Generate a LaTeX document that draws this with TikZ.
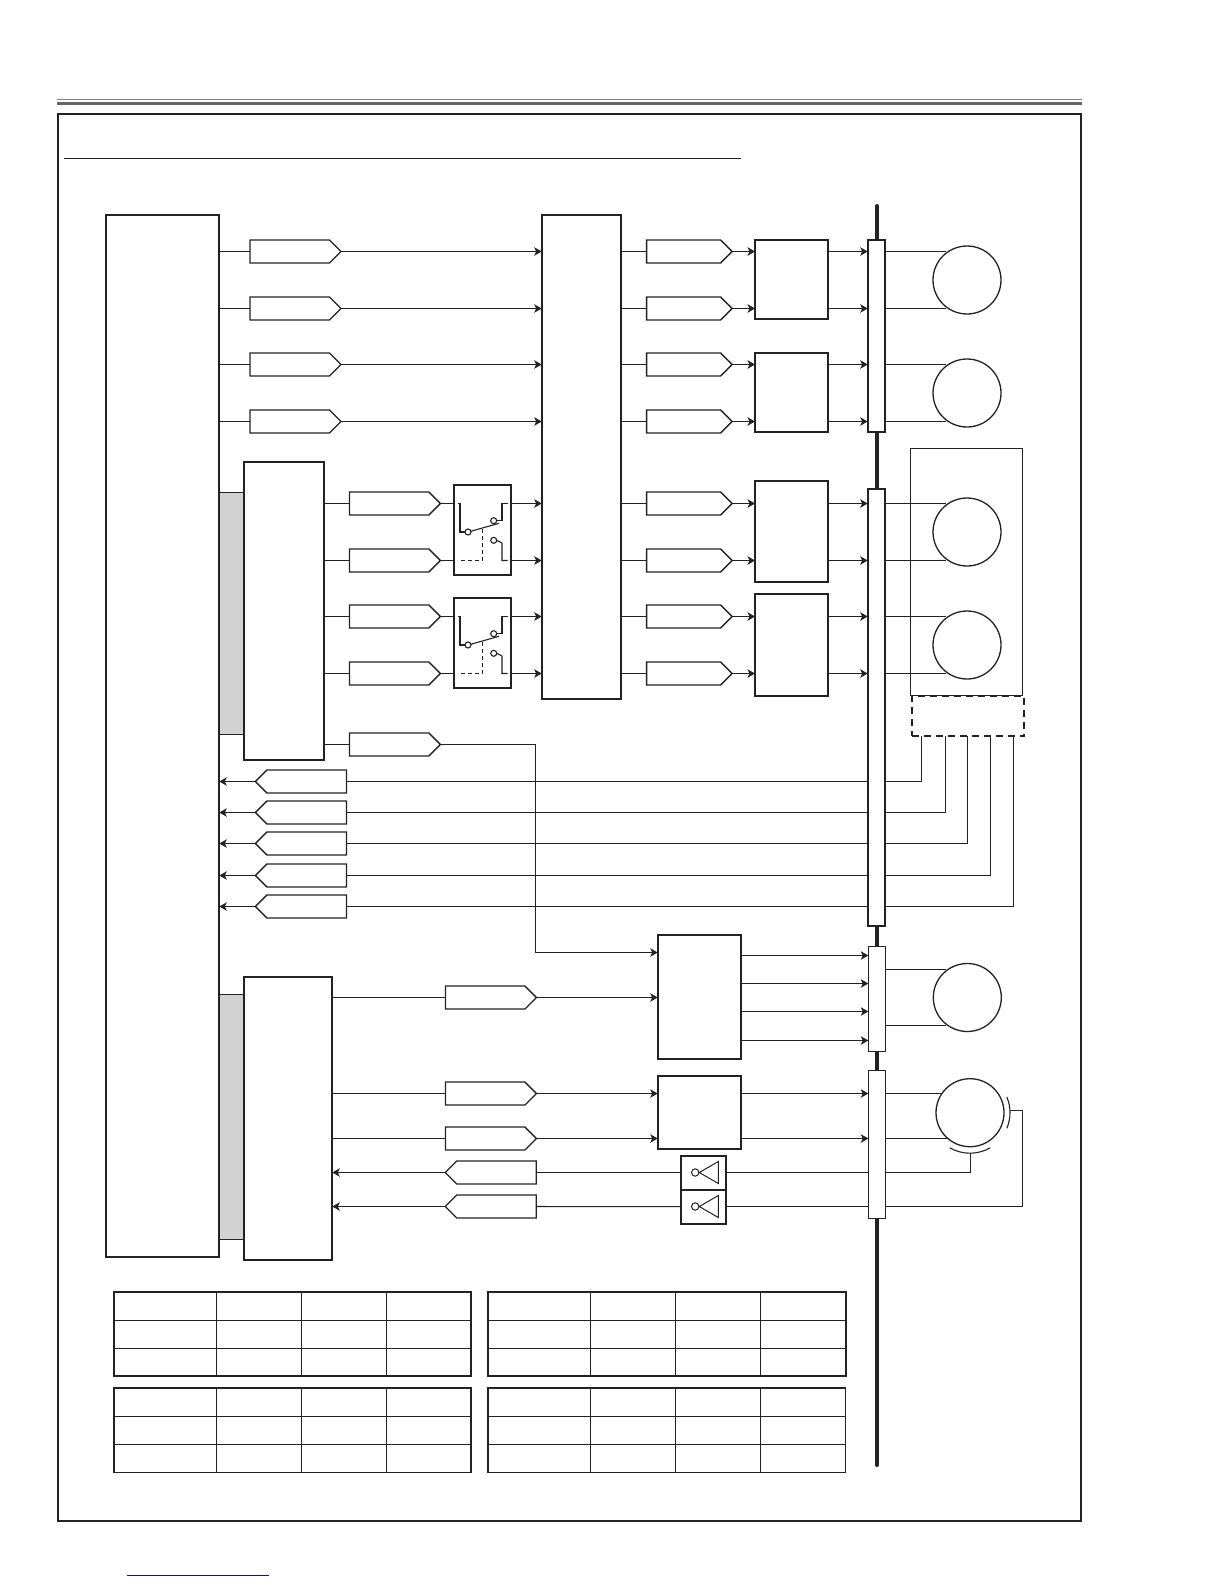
\documentclass[tikz,border=0pt]{standalone}
\usetikzlibrary{arrows.meta,shapes.symbols}
\definecolor{ink}{HTML}{222222}
\definecolor{panel}{HTML}{D2D2D2}
\definecolor{linkblue}{HTML}{101090}
\tikzset{
  blk/.style={draw,fill=white,rectangle,line width=2pt,inner sep=0pt,outer sep=0pt,anchor=north west},
  thinblk/.style={blk,line width=1.1pt},
  tagr/.style={draw,fill=white,signal,signal to=east,signal pointer angle=90,line width=1.3pt,inner sep=0pt,outer sep=0pt,minimum height=23pt,anchor=west},
  tagl/.style={tagr,signal to=west,anchor=east},
  mot/.style={draw,circle,line width=1.3pt,inner sep=0pt,outer sep=0pt,minimum size=68pt},
  wire/.style={line width=1.05pt},
  motwire/.style={wire,shorten >=2.5pt},
  arr/.style={wire,-{Stealth[length=7.5pt,width=8.5pt,inset=2pt]}},
  cell/.style={line width=1.1pt},
  tblout/.style={line width=2pt},
  tblside/.style={line width=1.5pt}
}
\newcommand{\switchbody}{
  \draw [line width=1.1pt] (3.7,18.5)--(6,18.5)--(6,47)--(11,47);
  \draw [line width=1.1pt] (14,47) circle [radius=3];
  \draw [line width=1.1pt] (16.7,46.3)--(45,38.3);
  \draw [line width=1.1pt] (39.7,35.7) circle [radius=3];
  \draw [line width=1.1pt] (42.7,35.7)--(48,35.7)--(48,18.5)--(53.7,18.5);
  \draw [line width=1.1pt] (39.7,55.3) circle [radius=3];
  \draw [line width=1.1pt] (42.7,55.3)--(48,58)--(48,75.5)--(53.7,75.5);
  \draw [wire,dash pattern=on 4pt off 3pt] (28.3,44.3)--(28.3,75.5)--(5,75.5);
}
\newcommand{\invbody}{
  \draw [line width=1pt] (18.6,17)--(37.6,6)--(37.6,28)--cycle;
  \draw [line width=1pt] (14.5,17) circle [radius=3.7];
}
\begin{document}
\begin{tikzpicture}[x=1pt,y=-1pt,color=ink]
  \useasboundingbox (0,0) rectangle (1224,1584);
  \draw [line width=1pt,gray] (57,99.5)--(1082,99.5);
  \draw [line width=3pt,black!60] (57,103.5)--(1082,103.5);
  \draw [line width=2pt] (57.7,113.7) rectangle (1081,1520.7);
  \draw [line width=1.1pt] (64,158.5)--(741,158.5);
  \draw [line width=1pt,linkblue] (127,1575.5)--(269,1575.5);

  \coordinate (spinetop) at(877,206);
  \coordinate (spinebot) at(877,1465);
  \draw [line width=4pt,line cap=round] (spinetop)--(spinebot);

  \node [thinblk,draw=ink,fill=panel,minimum width=24.4pt,minimum height=242pt] (panelA) at(219,492.3) {};
  \node [thinblk,draw=ink,fill=panel,minimum width=24.4pt,minimum height=245.3pt] (panelB) at(219,994.5) {};
  \node [blk,minimum width=113.3pt,minimum height=1042pt] (main) at(106,215) {};
  \node [blk,minimum width=79.8pt,minimum height=298pt] (sigbox) at(244.4,461.5) {};
  \node [blk,minimum width=87.9pt,minimum height=283.8pt] (ctlbox) at(244.4,976.6) {};
  \node [blk,minimum width=79.3pt,minimum height=484.5pt] (mux) at(541.7,214.5) {};
  \node [blk,minimum width=73pt,minimum height=78.6pt] (drvA) at(755,240.4) {};
  \node [blk,minimum width=73pt,minimum height=79.5pt] (drvB) at(755,352.5) {};
  \node [blk,minimum width=73pt,minimum height=101pt] (drvC) at(755,481) {};
  \node [blk,minimum width=73pt,minimum height=102pt] (drvD) at(755,594) {};
  \node [blk,minimum width=83.5pt,minimum height=124pt] (drvE) at(657.7,935) {};
  \node [blk,minimum width=83.5pt,minimum height=73.3pt] (drvF) at(657.7,1075.7) {};
  \node [blk,minimum width=57pt,minimum height=90pt] (swA) at(454,485) {};
  \node [blk,minimum width=57pt,minimum height=90pt] (swB) at(454,598) {};
  \node [blk,minimum width=45.6pt,minimum height=34pt] (invA) at(680.7,1155.5) {};
  \node [blk,minimum width=45.6pt,minimum height=34.3pt] (invB) at(680.7,1189.5) {};

  \node [blk,minimum width=17.3pt,minimum height=192.5pt] (barA) at(867.7,239.5) {};
  \node [blk,minimum width=17.3pt,minimum height=437.2pt] (barB) at(867.7,488.8) {};
  \node [thinblk,minimum width=17pt,minimum height=105pt] (barC) at(868.3,946.3) {};
  \node [thinblk,minimum width=17.4pt,minimum height=148pt] (barD) at(868.3,1070.3) {};

  \node [thinblk,minimum width=112pt,minimum height=247pt] (cover) at(910.7,448.5) {};
  \node [blk,dash pattern=on 7pt off 5pt,minimum width=112.6pt,minimum height=40pt,fill=white] (hall) at(911.7,696) {};

  \node [mot] (motA) at(967,280) {};
  \node [mot] (motB) at(967,393) {};
  \node [mot] (motC) at(967,532) {};
  \node [mot] (motD) at(967,645) {};
  \node [mot] (motE) at(967.3,997.5) {};
  \node [mot] (motF) at(970,1112.7) {};
  \draw [line width=1.1pt] (motF.center) ++(-23:40) arc [start angle=-23,end angle=23,radius=40];
  \draw [line width=1.1pt] (motF.center) ++(60:40.5) arc [start angle=60,end angle=120,radius=40.5];

  \begin{scope}[shift={(swA.north west)}]
    \switchbody
  \end{scope}
  \begin{scope}[shift={(swB.north west)}]
    \switchbody
  \end{scope}
  \begin{scope}[shift={(invA.north west)}]
    \invbody
  \end{scope}
  \begin{scope}[shift={(invB.north west)}]
    \invbody
  \end{scope}

  \node [tagr,minimum width=91pt] (a1) at(250,251.5) {};
  \node [tagr,minimum width=91pt] (a2) at(250,308.5) {};
  \node [tagr,minimum width=91pt] (a3) at(250,364.5) {};
  \node [tagr,minimum width=91pt] (a4) at(250,421.5) {};
  \node [tagr,minimum width=91pt] (b1) at(349.4,503.5) {};
  \node [tagr,minimum width=91pt] (b2) at(349.4,560.5) {};
  \node [tagr,minimum width=91pt] (b3) at(349.4,616.5) {};
  \node [tagr,minimum width=91pt] (b4) at(349.4,673.5) {};
  \node [tagr,minimum width=91pt] (b5) at(349.4,744.5) {};
  \node [tagr,minimum width=85.5pt] (c1) at(646.6,251.5) {};
  \node [tagr,minimum width=85.5pt] (c2) at(646.6,308.5) {};
  \node [tagr,minimum width=85.5pt] (c3) at(646.6,364.5) {};
  \node [tagr,minimum width=85.5pt] (c4) at(646.6,421.5) {};
  \node [tagr,minimum width=85.5pt] (c5) at(646.6,503.5) {};
  \node [tagr,minimum width=85.5pt] (c6) at(646.6,560.5) {};
  \node [tagr,minimum width=85.5pt] (c7) at(646.6,616.5) {};
  \node [tagr,minimum width=85.5pt] (c8) at(646.6,673.5) {};
  \node [tagl,minimum width=91pt] (d1) at(346.4,781.5) {};
  \node [tagl,minimum width=91pt] (d2) at(346.4,812.5) {};
  \node [tagl,minimum width=91pt] (d3) at(346.4,843.5) {};
  \node [tagl,minimum width=91pt] (d4) at(346.4,875.5) {};
  \node [tagl,minimum width=91pt] (d5) at(346.4,906.5) {};
  \node [tagr,minimum width=91pt] (e1) at(445.4,997.5) {};
  \node [tagr,minimum width=91pt] (e2) at(445.4,1093.5) {};
  \node [tagr,minimum width=91pt] (e3) at(445.4,1138.5) {};
  \node [tagl,minimum width=91pt] (e4) at(536.3,1172.5) {};
  \node [tagl,minimum width=91pt] (e5) at(536.3,1206.5) {};

  \draw [wire] (a1.west-|main.east)--(a1.west);
  \draw [wire] (a2.west-|main.east)--(a2.west);
  \draw [wire] (a3.west-|main.east)--(a3.west);
  \draw [wire] (a4.west-|main.east)--(a4.west);
  \draw [arr] (a1.east)--(a1.east-|mux.west);
  \draw [arr] (a2.east)--(a2.east-|mux.west);
  \draw [arr] (a3.east)--(a3.east-|mux.west);
  \draw [arr] (a4.east)--(a4.east-|mux.west);

  \draw [wire] (b1.west-|sigbox.east)--(b1.west);
  \draw [wire] (b2.west-|sigbox.east)--(b2.west);
  \draw [wire] (b3.west-|sigbox.east)--(b3.west);
  \draw [wire] (b4.west-|sigbox.east)--(b4.west);
  \draw [wire] (b5.west-|sigbox.east)--(b5.west);
  \draw [wire] (b1.east)--(b1.east-|swA.west);
  \draw [wire] (b2.east)--(b2.east-|swA.west);
  \draw [wire] (b3.east)--(b3.east-|swB.west);
  \draw [wire] (b4.east)--(b4.east-|swB.west);
  \draw [arr] (b1.east-|swA.east)--(b1.east-|mux.west);
  \draw [arr] (b2.east-|swA.east)--(b2.east-|mux.west);
  \draw [arr] (b3.east-|swB.east)--(b3.east-|mux.west);
  \draw [arr] (b4.east-|swB.east)--(b4.east-|mux.west);

  \draw [wire] (c1.west-|mux.east)--(c1.west);
  \draw [wire] (c2.west-|mux.east)--(c2.west);
  \draw [wire] (c3.west-|mux.east)--(c3.west);
  \draw [wire] (c4.west-|mux.east)--(c4.west);
  \draw [wire] (c5.west-|mux.east)--(c5.west);
  \draw [wire] (c6.west-|mux.east)--(c6.west);
  \draw [wire] (c7.west-|mux.east)--(c7.west);
  \draw [wire] (c8.west-|mux.east)--(c8.west);
  \draw [arr] (c1.east)--(c1.east-|drvA.west);
  \draw [arr] (c2.east)--(c2.east-|drvA.west);
  \draw [arr] (c3.east)--(c3.east-|drvB.west);
  \draw [arr] (c4.east)--(c4.east-|drvB.west);
  \draw [arr] (c5.east)--(c5.east-|drvC.west);
  \draw [arr] (c6.east)--(c6.east-|drvC.west);
  \draw [arr] (c7.east)--(c7.east-|drvD.west);
  \draw [arr] (c8.east)--(c8.east-|drvD.west);

  \draw [arr] (c1.east-|drvA.east)--(c1.east-|barA.west);
  \draw [arr] (c2.east-|drvA.east)--(c2.east-|barA.west);
  \draw [arr] (c3.east-|drvB.east)--(c3.east-|barA.west);
  \draw [arr] (c4.east-|drvB.east)--(c4.east-|barA.west);
  \draw [arr] (c5.east-|drvC.east)--(c5.east-|barB.west);
  \draw [arr] (c6.east-|drvC.east)--(c6.east-|barB.west);
  \draw [arr] (c7.east-|drvD.east)--(c7.east-|barB.west);
  \draw [arr] (c8.east-|drvD.east)--(c8.east-|barB.west);

  \draw [motwire] (motA.123-|barA.east)--(motA.123);
  \draw [motwire] (motA.237-|barA.east)--(motA.237);
  \draw [motwire] (motB.123-|barA.east)--(motB.123);
  \draw [motwire] (motB.237-|barA.east)--(motB.237);
  \draw [motwire] (motC.123-|barB.east)--(motC.123);
  \draw [motwire] (motC.237-|barB.east)--(motC.237);
  \draw [motwire] (motD.123-|barB.east)--(motD.123);
  \draw [motwire] (motD.237-|barB.east)--(motD.237);
  \draw [motwire] (motE.124-|barC.east)--(motE.124);
  \draw [motwire] (motE.236-|barC.east)--(motE.236);
  \draw [wire] (motF.145-|barD.east)--(motF.145);
  \draw [wire] (motF.229-|barD.east)--(motF.229);

  \draw [arr] (d1.west)--(d1.west-|main.east);
  \draw [arr] (d2.west)--(d2.west-|main.east);
  \draw [arr] (d3.west)--(d3.west-|main.east);
  \draw [arr] (d4.west)--(d4.west-|main.east);
  \draw [arr] (d5.west)--(d5.west-|main.east);
  \draw [wire] (d1.east-|barB.west)--(d1.east);
  \draw [wire] (d2.east-|barB.west)--(d2.east);
  \draw [wire] (d3.east-|barB.west)--(d3.east);
  \draw [wire] (d4.east-|barB.west)--(d4.east);
  \draw [wire] (d5.east-|barB.west)--(d5.east);
  \coordinate (h1) at(921.7,736);
  \coordinate (h2) at(945.7,736);
  \coordinate (h3) at(967.7,736);
  \coordinate (h4) at(990.7,736);
  \coordinate (h5) at(1013.7,736);
  \draw [wire] (h1) |- (d1.east-|barB.east);
  \draw [wire] (h2) |- (d2.east-|barB.east);
  \draw [wire] (h3) |- (d3.east-|barB.east);
  \draw [wire] (h4) |- (d4.east-|barB.east);
  \draw [wire] (h5) |- (d5.east-|barB.east);

  \coordinate (bend) at(535.7,952.5);
  \draw [wire] (b5.east) -| (bend);
  \draw [arr] (bend)--(bend-|drvE.west);
  \draw [wire] (e1.west-|ctlbox.east)--(e1.west);
  \draw [wire] (e2.west-|ctlbox.east)--(e2.west);
  \draw [wire] (e3.west-|ctlbox.east)--(e3.west);
  \draw [arr] (e1.east)--(e1.east-|drvE.west);
  \draw [arr] (e2.east)--(e2.east-|drvF.west);
  \draw [arr] (e3.east)--(e3.east-|drvF.west);
  \draw [arr] (e4.west)--(e4.west-|ctlbox.east);
  \draw [arr] (e5.west)--(e5.west-|ctlbox.east);
  \draw [wire] (invA.west)--(e4.east);
  \draw [wire] (invB.west)--(e5.east);

  \coordinate (o1) at(741,955.5);
  \coordinate (o2) at(741,983.5);
  \coordinate (o3) at(741,1011.5);
  \coordinate (o4) at(741,1040.5);
  \draw [arr] (o1)--(o1-|barC.west);
  \draw [arr] (o2)--(o2-|barC.west);
  \draw [arr] (o3)--(o3-|barC.west);
  \draw [arr] (o4)--(o4-|barC.west);
  \draw [arr] (e2.east-|drvF.east)--(e2.east-|barD.west);
  \draw [arr] (e3.east-|drvF.east)--(e3.east-|barD.west);
  \draw [wire] (invA.east)--(invA.east-|barD.west);
  \draw [wire] (invB.east)--(invB.east-|barD.west);
  \coordinate (seB) at(970.7,1153.3);
  \coordinate (seR) at(1010,1110.5);
  \draw [wire] (invA.east-|barD.east) -| (seB);
  \draw [wire] (invB.east-|barD.east) -| (1022.3,1110.5)--(seR);

  \draw [tblout] (114,1292) rectangle (471,1376);
  \draw [cell] (216.5,1292)--(216.5,1376) (301.5,1292)--(301.5,1376) (386.5,1292)--(386.5,1376);
  \draw [cell] (114,1320.5)--(471,1320.5) (114,1348.5)--(471,1348.5);
  \draw [tblout] (487.8,1292) rectangle (845.6,1376);
  \draw [cell] (590.5,1292)--(590.5,1376) (675.5,1292)--(675.5,1376) (760.5,1292)--(760.5,1376);
  \draw [cell] (487.8,1320.5)--(845.6,1320.5) (487.8,1348.5)--(845.6,1348.5);
  \draw [tblside] (114,1388) rectangle (471,1472.5);
  \draw [tblout] (114,1388)--(471,1388);
  \draw [cell] (216.5,1388)--(216.5,1472.5) (301.5,1388)--(301.5,1472.5) (386.5,1388)--(386.5,1472.5);
  \draw [cell] (114,1416.5)--(471,1416.5) (114,1444.5)--(471,1444.5);
  \draw [tblside] (487.8,1388) rectangle (845.6,1472.5);
  \draw [tblout] (487.8,1388)--(845.6,1388);
  \draw [cell] (590.5,1388)--(590.5,1472.5) (675.5,1388)--(675.5,1472.5) (760.5,1388)--(760.5,1472.5);
  \draw [cell] (487.8,1416.5)--(845.6,1416.5) (487.8,1444.5)--(845.6,1444.5);
\end{tikzpicture}
\end{document}
